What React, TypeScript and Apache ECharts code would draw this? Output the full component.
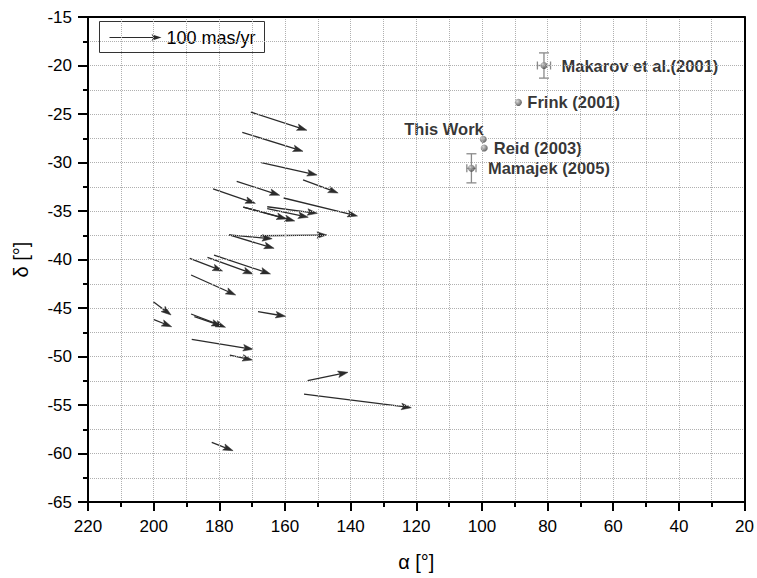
import React, { useEffect, useRef } from "react";
import * as echarts from "echarts";

// Proper-motion vectors (start -> end) in degrees
const raStart = [170.4, 173.0, 167.2, 154.5, 174.7, 181.9, 160.4, 172.7, 172.7, 165.4, 165.4, 177.0, 177.0, 167.6, 189.0, 183.6, 181.6, 188.6, 200.1, 200.1, 188.6, 187.6, 168.2, 188.4, 176.8, 153.1, 154.2, 182.3];
const decStart = [-24.8, -26.89, -30.02, -31.8, -31.94, -32.73, -33.66, -34.59, -34.59, -34.56, -34.76, -37.47, -37.47, -37.55, -39.88, -39.77, -39.54, -41.6, -44.35, -46.17, -45.62, -45.9, -45.38, -48.23, -49.85, -52.49, -53.87, -58.85];
const raEnd = [153.3, 154.5, 150.2, 143.8, 161.6, 169.0, 137.9, 157.0, 159.5, 150.1, 152.9, 163.9, 163.3, 147.2, 179.0, 169.7, 164.4, 175.0, 194.7, 194.5, 178.1, 179.3, 159.8, 169.7, 169.9, 140.8, 121.5, 175.8];
const decEnd = [-26.68, -28.85, -31.29, -33.14, -33.38, -34.21, -35.52, -36.03, -35.82, -35.24, -35.65, -37.86, -38.85, -37.47, -41.19, -41.49, -41.49, -43.66, -45.72, -46.93, -46.99, -46.86, -45.86, -49.26, -50.36, -51.63, -55.28, -59.71];

// Literature / this work convergent points
const pointNames = ["Makarov et al.(2001)", "Frink (2001)", "This Work", "Reid (2003)", "Mamajek (2005)"];
const pointRA = [81.1, 88.9, 99.6, 99.3, 103.2];
const pointDec = [-20.0, -23.8, -27.6, -28.5, -30.6];
const errRA = [2.0, 0, 0, 0, 1.4];
const errDec = [1.3, 0, 0, 0, 1.5];

const legendText = "100 mas/yr";
const xTitle = "α [°]";
const yTitle = "δ [°]";

const FONT = "'Liberation Sans', Arial, Helvetica, sans-serif";

export default function App() {
  const ref = useRef<HTMLDivElement>(null);

  useEffect(() => {
    if (!ref.current) return;
    const chart = echarts.init(ref.current, undefined, { renderer: "svg" });

    const arrowData = raStart.map((v, i) => [v, decStart[i], raEnd[i], decEnd[i]]);
    const errData = pointRA.map((v, i) => [v, pointDec[i], errRA[i], errDec[i]]);

    const labelDist = [14, 5.5, 0, 6, 13];
    const scatterData = pointRA.map((v, i) => {
      const item: any = { value: [v, pointDec[i]], name: pointNames[i] };
      if (pointNames[i] === "This Work") {
        item.label = { position: [4, -7], align: "right", verticalAlign: "middle" };
      } else {
        item.label = { position: "right", distance: labelDist[i] };
      }
      return item;
    });

    const gridLine = { show: true, lineStyle: { color: "#b0b0b0", type: [1, 1] as any, width: 1 } };
    const frameAxis = {
      type: "value",
      axisLine: { show: true, onZero: false, lineStyle: { color: "#000", width: 2 } },
      axisTick: { show: false },
      axisLabel: { show: false },
      splitLine: { show: false },
    };

    const option: any = {
      animation: false,
      backgroundColor: "#fff",
      grid: { left: 88, right: 12, top: 17, bottom: 76 },
      xAxis: [
        {
          type: "value",
          min: 20,
          max: 220,
          interval: 20,
          inverse: true,
          name: xTitle,
          nameLocation: "middle",
          nameGap: 50,
          nameTextStyle: { fontFamily: FONT, fontSize: 20, color: "#000" },
          axisLine: { show: true, onZero: false, lineStyle: { color: "#000", width: 2 } },
          axisTick: { show: true, length: 9, lineStyle: { color: "#000", width: 2 } },
          minorTick: { show: true, splitNumber: 2, length: 5, lineStyle: { color: "#000", width: 2 } },
          axisLabel: { fontFamily: FONT, fontSize: 17, color: "#000", margin: 16 },
          splitLine: gridLine,
          minorSplitLine: gridLine,
          z: 10,
        },
        { ...frameAxis, position: "top", min: 20, max: 220, interval: 20, inverse: true, z: 10 },
      ],
      yAxis: [
        {
          type: "value",
          min: -65,
          max: -15,
          interval: 5,
          name: yTitle,
          nameLocation: "middle",
          nameGap: 57,
          nameRotate: 90,
          nameTextStyle: { fontFamily: FONT, fontSize: 20, color: "#000" },
          axisLine: { show: true, onZero: false, lineStyle: { color: "#000", width: 2 } },
          axisTick: { show: true, length: 10, lineStyle: { color: "#000", width: 2 } },
          minorTick: { show: true, splitNumber: 2, length: 5, lineStyle: { color: "#000", width: 2 } },
          axisLabel: { fontFamily: FONT, fontSize: 17, color: "#000", margin: 16 },
          splitLine: gridLine,
          minorSplitLine: gridLine,
          z: 10,
        },
        { ...frameAxis, position: "right", min: -65, max: -15, interval: 5, z: 10 },
      ],
      series: [
        {
          type: "custom",
          name: "vectors",
          data: arrowData,
          encode: { x: [0, 2], y: [1, 3] },
          renderItem: (params: any, api: any) => {
            const p1 = api.coord([api.value(0), api.value(1)]);
            const p2 = api.coord([api.value(2), api.value(3)]);
            const dx = p2[0] - p1[0];
            const dy = p2[1] - p1[1];
            const len = Math.hypot(dx, dy) || 1;
            const ux = dx / len;
            const uy = dy / len;
            const hl = 10;
            const hw = 3.3;
            const bx = p2[0] - ux * hl;
            const by = p2[1] - uy * hl;
            return {
              type: "group",
              children: [
                {
                  type: "line",
                  shape: { x1: p1[0], y1: p1[1], x2: bx + ux * 2, y2: by + uy * 2 },
                  style: { stroke: "#2b2b2b", lineWidth: 1.3 },
                },
                {
                  type: "polygon",
                  shape: {
                    points: [
                      [p2[0], p2[1]],
                      [bx - uy * hw, by + ux * hw],
                      [bx + ux * 2, by + uy * 2],
                      [bx + uy * hw, by - ux * hw],
                    ],
                  },
                  style: { fill: "#2b2b2b", stroke: "#2b2b2b", lineWidth: 0.5 },
                },
              ],
            };
          },
          z: 3,
        },
        {
          type: "custom",
          name: "errors",
          data: errData,
          encode: { x: 0, y: 1 },
          renderItem: (params: any, api: any) => {
            const x = api.value(0);
            const y = api.value(1);
            const ex = api.value(2);
            const ey = api.value(3);
            const children: any[] = [];
            const st = { stroke: "#8a8a8a", lineWidth: 1.3 };
            if (ey > 0) {
              const a = api.coord([x, y + ey]);
              const b = api.coord([x, y - ey]);
              children.push({ type: "line", shape: { x1: a[0], y1: a[1], x2: b[0], y2: b[1] }, style: st });
              children.push({ type: "line", shape: { x1: a[0] - 5, y1: a[1], x2: a[0] + 5, y2: a[1] }, style: st });
              children.push({ type: "line", shape: { x1: b[0] - 5, y1: b[1], x2: b[0] + 5, y2: b[1] }, style: st });
            }
            if (ex > 0) {
              const a = api.coord([x + ex, y]);
              const b = api.coord([x - ex, y]);
              children.push({ type: "line", shape: { x1: a[0], y1: a[1], x2: b[0], y2: b[1] }, style: st });
              children.push({ type: "line", shape: { x1: a[0], y1: a[1] - 4, x2: a[0], y2: a[1] + 4 }, style: st });
              children.push({ type: "line", shape: { x1: b[0], y1: b[1] - 4, x2: b[0], y2: b[1] + 4 }, style: st });
            }
            return { type: "group", children };
          },
          z: 4,
        },
        {
          type: "scatter",
          name: "points",
          data: scatterData,
          symbol: "circle",
          symbolSize: 7,
          itemStyle: {
            color: new echarts.graphic.RadialGradient(0.35, 0.35, 0.7, [
              { offset: 0, color: "#d0d0d0" },
              { offset: 1, color: "#3a3a3a" },
            ]),
          },
          label: {
            show: true,
            formatter: "{b}",
            fontFamily: FONT,
            fontWeight: "bold",
            fontSize: 16.5,
            color: "#000",
          },
          z: 5,
        },
      ],
      graphic: [
        {
          type: "group",
          left: 99,
          top: 21,
          z: 10,
          children: [
            { type: "rect", shape: { x: 0, y: 0, width: 165, height: 31 }, style: { fill: "#fff", stroke: "#333", lineWidth: 1 } },
            { type: "line", shape: { x1: 10, y1: 16, x2: 55, y2: 16 }, style: { stroke: "#2b2b2b", lineWidth: 1.2 } },
            { type: "polygon", shape: { points: [[62, 16], [52, 12.8], [54, 16], [52, 19.2]] }, style: { fill: "#2b2b2b" } },
            { type: "text", style: { x: 67, y: 16, text: legendText, fontFamily: FONT, fontSize: 18, fill: "#000", verticalAlign: "middle" } },
          ],
        },
      ],
    };

    chart.setOption(option);
    return () => chart.dispose();
  }, []);

  return <div ref={ref} style={{ position: "fixed", left: 0, top: 0, width: 757, height: 578 }} />;
}
